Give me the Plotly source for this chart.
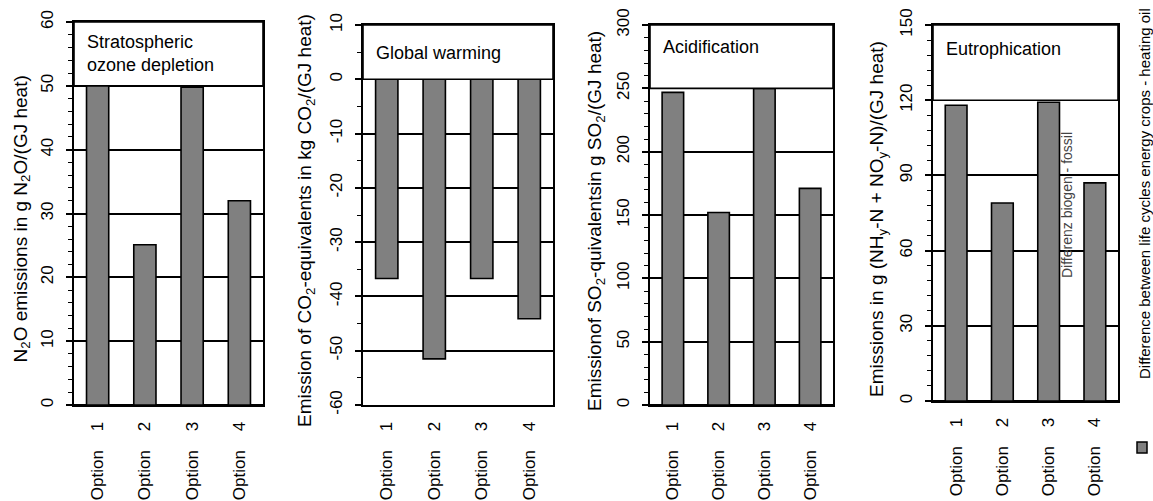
import plotly.graph_objects as go

# ---- data -------------------------------------------------------------
options = ["Option\u00a0\u00a0\u00a0\u00a01", "Option\u00a0\u00a0\u00a0\u00a02",
           "Option\u00a0\u00a0\u00a0\u00a03", "Option\u00a0\u00a0\u00a0\u00a04"]

ozone_depletion = [50.4, 25.1, 49.8, 32.0]        # g N2O / GJ heat
global_warming = [-36.7, -51.5, -36.7, -44.1]     # kg CO2-eq / GJ heat
acidification = [246.8, 152.0, 250.0, 171.0]      # g SO2-eq / GJ heat
eutrophication = [118.0, 79.0, 119.2, 87.0]       # g (NHy-N + NOy-N) / GJ heat

ozone_ticks = [0, 10, 20, 30, 40, 50, 60]
warming_ticks = [-60, -50, -40, -30, -20, -10, 0, 10]
acid_ticks = [0, 50, 100, 150, 200, 250, 300]
eutro_ticks = [0, 30, 60, 90, 120, 150]

panel_titles = ["Stratospheric<br>ozone depletion", "Global warming",
                "Acidification", "Eutrophication"]
y_titles = [
    "N<sub>2</sub>O emissions in g N<sub>2</sub>O/(GJ heat)",
    "Emission of CO<sub>2</sub>-equivalents in kg CO<sub>2</sub>/(GJ heat)",
    "Emissionof SO<sub>2</sub>-quivalentsin g SO<sub>2</sub>/(GJ heat)",
    "Emissions in g (NH<sub>y</sub>-N + NO<sub>y</sub>-N)/(GJ heat)",
]
legend_label = "Difference between life cycles energy crops - heating oil"

# ---- layout geometry (pixels) -----------------------------------------
W, H = 1153, 501
FONT = "Liberation Sans, Arial, sans-serif"
BAR_COLOR = "#808080"

panels = [
    dict(data=ozone_depletion, ticks=ozone_ticks, px=(74, 263), py=(22, 405),
         mdt=2, box=50, ty=53, ytx=22),
    dict(data=global_warming, ticks=warming_ticks, px=(363, 553), py=(25, 405),
         mdt=5, box=0, ty=53, ytx=306),
    dict(data=acidification, ticks=acid_ticks, px=(650, 833), py=(25, 405),
         mdt=10, box=250, ty=47, ytx=596),
    dict(data=eutrophication, ticks=eutro_ticks, px=(933, 1118), py=(25, 401),
         mdt=6, box=120, ty=49, ytx=878),
]


def fx(px):
    return px / W


def fy(py):
    return 1 - py / H


fig = go.Figure()
shapes = []
annotations = []

for i, p in enumerate(panels, start=1):
    sfx = "" if i == 1 else str(i)
    xa, ya = "x" + sfx, "y" + sfx
    ymin, ymax = p["ticks"][0], p["ticks"][-1]
    fig.add_trace(go.Bar(
        x=options, y=p["data"], xaxis=xa, yaxis=ya,
        marker=dict(color=BAR_COLOR, line=dict(color="black", width=1.6)),
        showlegend=False, hoverinfo="y",
    ))

    fig.update_layout(**{
        "xaxis" + sfx: dict(
            domain=[fx(p["px"][0]), fx(p["px"][1])], anchor=ya,
            type="category", range=[-0.5, 3.5], automargin=False,
            showline=True, linecolor="black", linewidth=2, mirror=True,
            showgrid=False, ticks="", tickangle=-90, ticklabelstandoff=8,
            tickfont=dict(family=FONT, size=17, color="black"),
            fixedrange=True,
        ),
        "yaxis" + sfx: dict(
            domain=[fy(p["py"][1]), fy(p["py"][0])], anchor=xa,
            range=[ymin, ymax], automargin=False,
            tickmode="array", tickvals=p["ticks"],
            ticktext=[str(t) for t in p["ticks"]],
            showline=True, linecolor="black", linewidth=2, mirror=True,
            showgrid=True, gridcolor="black", gridwidth=1.6,
            zeroline=True, zerolinecolor="black", zerolinewidth=1.8,
            ticks="outside", ticklen=6, tickwidth=1.5, tickcolor="black",
            minor=dict(ticks="outside", ticklen=4, tickwidth=1.2,
                       tickcolor="black", dtick=p["mdt"], tick0=0, showgrid=False),
            tickangle=-90, ticklabelstandoff=6,
            tickfont=dict(family=FONT, size=17, color="black"),
            fixedrange=True,
        ),
    })

    # white caption box across the top of each panel
    shapes.append(dict(
        type="rect", xref=xa + " domain", yref=ya,
        x0=0, x1=1, y0=p["box"], y1=ymax,
        fillcolor="white", line=dict(color="black", width=1.6), layer="above",
    ))
    annotations.append(dict(
        text=panel_titles[i - 1], xref="paper", yref="paper",
        x=fx(p["px"][0] + 11), y=fy(p["ty"]), xanchor="left", yanchor="middle",
        align="left", showarrow=False,
        font=dict(family=FONT, size=18, color="black"),
    ))
    # rotated y-axis title
    annotations.append(dict(
        text=y_titles[i - 1], xref="paper", yref="paper",
        x=fx(p["ytx"]), y=fy((p["py"][0] + p["py"][1]) / 2 + 6),
        xanchor="center", yanchor="middle", textangle=-90, showarrow=False,
        font=dict(family=FONT, size=19, color="black"),
    ))

# faint label behind the eutrophication bars
annotations.append(dict(
    text="Differenz biogen - fossil", xref="paper", yref="paper",
    x=fx(1067), y=fy(205), xanchor="center", yanchor="middle",
    textangle=-90, showarrow=False,
    font=dict(family=FONT, size=14, color="#444444"),
))

# legend: swatch + rotated label on the right edge
shapes.append(dict(
    type="rect", xref="paper", yref="paper",
    x0=fx(1137), x1=fx(1147), y0=fy(453), y1=fy(442),
    fillcolor=BAR_COLOR, line=dict(color="black", width=1.5),
))
annotations.append(dict(
    text=legend_label, xref="paper", yref="paper",
    x=fx(1144), y=fy(194), xanchor="center", yanchor="middle",
    textangle=-90, showarrow=False,
    font=dict(family=FONT, size=15, color="black"),
))

fig.update_layout(
    width=W, height=H,
    margin=dict(l=0, r=0, t=0, b=0, pad=0, autoexpand=False),
    paper_bgcolor="white", plot_bgcolor="white",
    bargap=0.53,
    shapes=shapes, annotations=annotations,
    showlegend=False,
)

fig.write_html("out.html")
